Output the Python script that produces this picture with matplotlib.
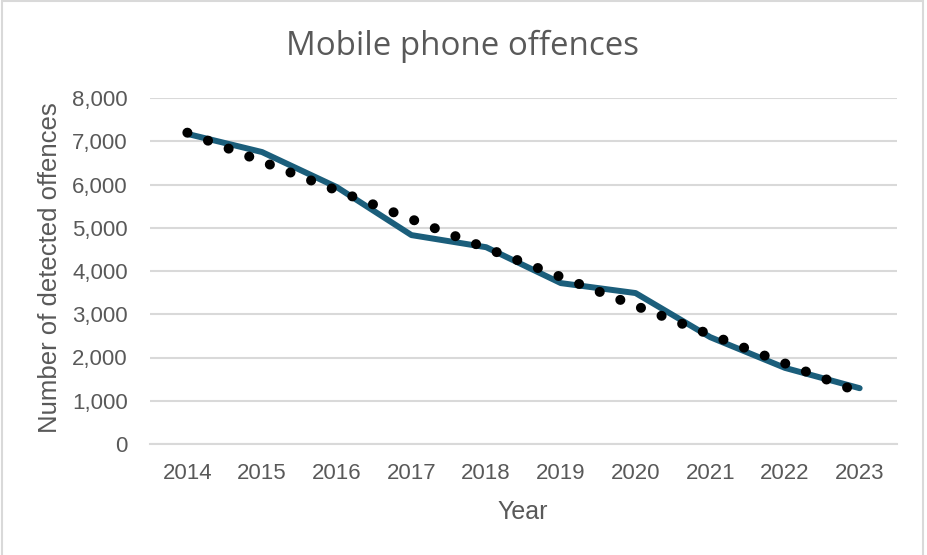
import numpy as np
import matplotlib
matplotlib.use("Agg")
import matplotlib.pyplot as plt
from matplotlib.patches import Rectangle
from matplotlib.ticker import FuncFormatter

# Detected mobile phone offences per year
years = ["2014", "2015", "2016", "2017", "2018", "2019", "2020", "2021", "2022", "2023"]
offences = [7170, 6750, 5940, 4830, 4550, 3720, 3490, 2470, 1760, 1290]
y_ticks = [0, 1000, 2000, 3000, 4000, 5000, 6000, 7000, 8000]

text_col = "#595959"
grid_col = "#d9d9d9"
line_col = "#1b5e7b"

fig = plt.figure(figsize=(9.27, 5.55), dpi=100)
fig.patch.set_facecolor("white")
fig.patches.append(Rectangle((1.5 / 927, -0.01), 921.5 / 927, 1 - 1.5 / 555 + 0.01,
                             transform=fig.transFigure, fill=False,
                             edgecolor=grid_col, linewidth=1.5))

ax = fig.add_axes([150 / 927, 111 / 555, 747 / 927, 346 / 555])

x = np.arange(len(years))
ax.plot(x, offences, color=line_col, linewidth=4.3, solid_joinstyle="round",
        solid_capstyle="round", zorder=3)

# Linear trend line
slope, intercept = np.polyfit(x, offences, 1)
trend = slope * x + intercept
ax.plot(x, trend, color="black", linewidth=7.2, linestyle=(0, (0.01, 2.2)),
        dash_capstyle="round", zorder=4)

ax.set_xlim(-0.5, len(years) - 0.5)
ax.set_ylim(0, 8000)
ax.set_yticks(y_ticks)
ax.yaxis.set_major_formatter(FuncFormatter(lambda v, p: f"{int(v):,}"))
ax.set_xticks(x)
ax.set_xticklabels(years)
ax.grid(axis="y", color=grid_col, linewidth=1.5)
ax.set_axisbelow(True)
for s in ["top", "right", "left"]:
    ax.spines[s].set_visible(False)
ax.spines["bottom"].set_color(grid_col)
ax.spines["bottom"].set_linewidth(1.5)
ax.tick_params(axis="both", length=0, labelsize=16, labelcolor=text_col,
               labelfontfamily="Liberation Sans")
ax.tick_params(axis="y", pad=16)
ax.tick_params(axis="x", pad=14)

fig.text(523 / 927, 1 - 512 / 555, "Year", ha="center", va="center",
         fontsize=18, color=text_col, family="Liberation Sans")
fig.text(50 / 927, 1 - 268 / 555, "Number of detected offences", ha="center", va="center",
         rotation=90, fontsize=18.5, color=text_col, family="Liberation Sans")

fig.text(463 / 927, 1 - 46 / 555, "Mobile phone offences", ha="center", va="center",
         fontsize=23.8, color=text_col, family="Open Sans")

fig.savefig("out.png", dpi=100, facecolor="white")
